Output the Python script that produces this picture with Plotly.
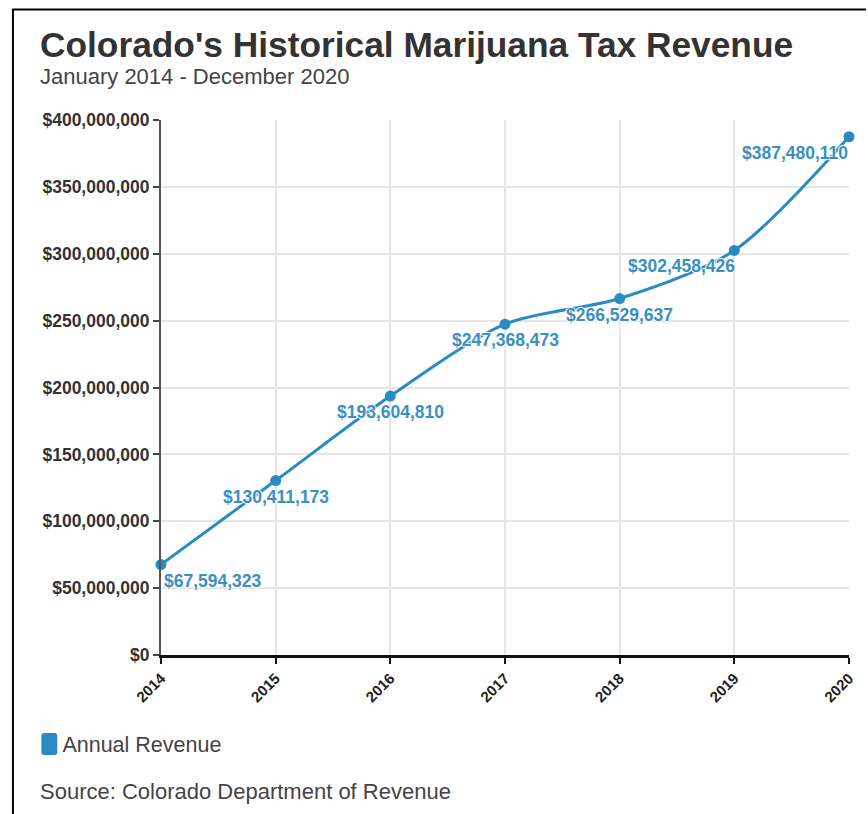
import plotly.graph_objects as go

years = [2014, 2015, 2016, 2017, 2018, 2019, 2020]
revenue = [67594323, 130411173, 193604810, 247368473, 266529637, 302458426, 387480110]
labels = ["$67,594,323", "$130,411,173", "$193,604,810", "$247,368,473",
          "$266,529,637", "$302,458,426", "$387,480,110"]
y_ticks = [0, 50e6, 100e6, 150e6, 200e6, 250e6, 300e6, 350e6, 400e6]
y_tick_text = ["$0", "$50,000,000", "$100,000,000", "$150,000,000", "$200,000,000",
               "$250,000,000", "$300,000,000", "$350,000,000", "$400,000,000"]

# label placement style (not data)
label_anchor = ["left", "center", "center", "center", "center", "right", "right"]
label_xshift = [2, 0, 0, 0, 0, 2, 0]

W, H = 868, 814
L, R, T, B = 161, 17, 120, 159
pw, ph = W - L - R, H - T - B

def px(p):
    return (p - L) / pw

def py(q):
    return (H - B - q) / ph

LINE = "#2a8bc3"
LABEL = "#3a90c2"
halo = "white 1px 0px 1px, white -1px 0px 1px, white 0px 1px 1px, white 0px -1px 1px"

fig = go.Figure()
fig.add_trace(go.Scatter(
    x=years, y=revenue, mode="lines+markers",
    line=dict(color=LINE, width=3, shape="spline", smoothing=0.8),
    marker=dict(color=LINE, size=11),
    showlegend=False, cliponaxis=False, hoverinfo="skip",
))
fig.add_trace(go.Scatter(
    x=[None], y=[None], mode="markers", name="Annual Revenue",
    marker=dict(color="rgba(0,0,0,0)", size=16, symbol="square"),
    showlegend=True,
))

# data labels drawn at the data points
for yr, val, txt, anc, xs in zip(years, revenue, labels, label_anchor, label_xshift):
    fig.add_annotation(
        x=yr, y=val, xref="x", yref="y", text=f"<b>{txt}</b>", showarrow=False,
        xanchor=anc, yanchor="middle", xshift=xs, yshift=-16, borderpad=0,
        font=dict(family="Liberation Sans", size=17.5, color=LABEL, shadow=halo),
    )

# rounded legend swatch
x0, x1, y0, y1, r = px(41), px(57), py(755), py(733), 3
rx, ry = r / pw, r / ph
swatch = (f"M {x0+rx},{y0} L {x1-rx},{y0} Q {x1},{y0} {x1},{y0+ry} "
          f"L {x1},{y1-ry} Q {x1},{y1} {x1-rx},{y1} L {x0+rx},{y1} Q {x0},{y1} {x0},{y1-ry} "
          f"L {x0},{y0+ry} Q {x0},{y0} {x0+rx},{y0} Z")

for txt, yy, sz, col in [("<b>Colorado's Historical Marijuana Tax Revenue</b>", 44, 35.3, "#333"),
                         ("January 2014 - December 2020", 77, 22, "#444"),
                         ("Source: Colorado Department of Revenue", 791, 22, "#444")]:
    fig.add_annotation(text=txt, x=px(38), y=py(yy), xref="paper", yref="paper",
                       xanchor="left", yanchor="middle", showarrow=False,
                       font=dict(size=sz, color=col))

fig.update_layout(
    width=W, height=H,
    margin=dict(l=L, r=R, t=T, b=B),
    paper_bgcolor="white", plot_bgcolor="white",
    font=dict(family="Liberation Sans", color="#333"),
    showlegend=True,
    legend=dict(x=px(22), y=py(744), xanchor="left", yanchor="middle",
                font=dict(size=21.5, color="#444"), itemsizing="constant",
                bgcolor="rgba(0,0,0,0)", itemwidth=30),
    xaxis=dict(
        range=[2014, 2020], tickvals=years, ticktext=[str(y) for y in years],
        tickangle=-45, ticks="outside", ticklen=6, tickwidth=2, tickcolor="#111",
        showline=True, linecolor="#111", linewidth=2.5,
        showgrid=True, gridcolor="#e6e6e6", gridwidth=2,
        tickfont=dict(size=15, color="#222", weight="bold"), zeroline=False,
    ),
    yaxis=dict(
        range=[0, 400e6], tickvals=y_ticks, ticktext=y_tick_text,
        ticks="outside", ticklen=6, tickwidth=2, tickcolor="#444",
        showline=True, linecolor="#555", linewidth=2,
        showgrid=True, gridcolor="#e6e6e6", gridwidth=2,
        tickfont=dict(size=17.5, color="#333", weight="bold"), zeroline=False,
    ),
    shapes=[
        dict(type="line", xref="paper", yref="paper", x0=px(12), x1=px(868), y0=py(9.5), y1=py(9.5),
             line=dict(color="black", width=2)),
        dict(type="line", xref="paper", yref="paper", x0=px(12.5), x1=px(12.5), y0=py(9), y1=py(814),
             line=dict(color="black", width=2)),
        dict(type="path", xref="paper", yref="paper", path=swatch,
             fillcolor=LINE, line=dict(width=0)),
    ],
)

fig.write_html("out.html")
